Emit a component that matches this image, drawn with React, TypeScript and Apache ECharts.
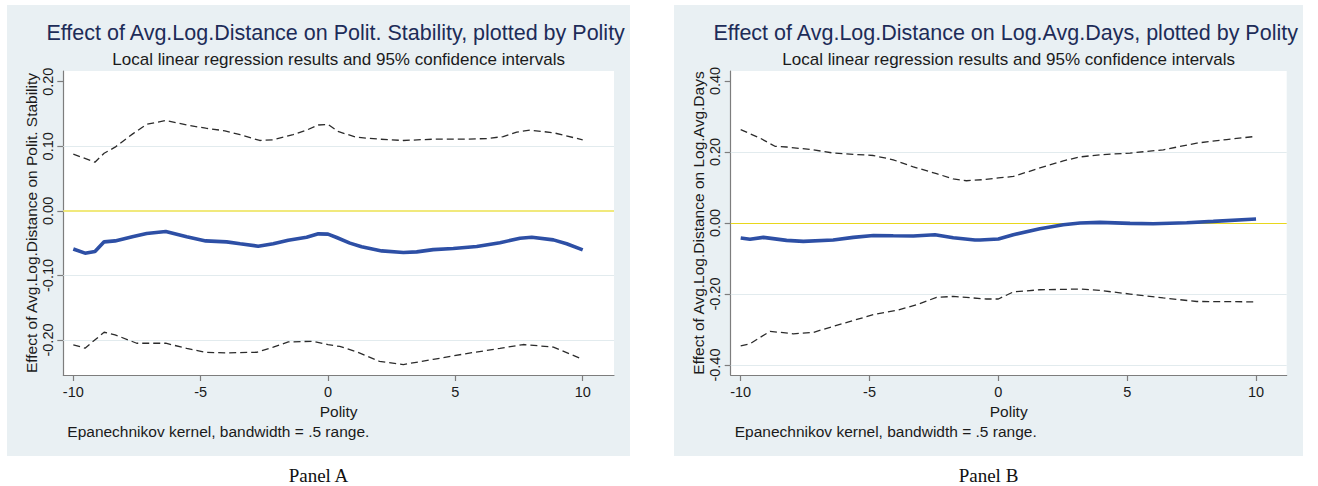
import React, { useEffect, useRef } from "react";
import * as echarts from "echarts";

const SANS = "'Liberation Sans', Arial, Helvetica, sans-serif";
const SERIF = "'Liberation Serif', 'Times New Roman', serif";

// ---- ticks ----
const xTicks = [-10, -5, 0, 5, 10];
const aYTicks = [-0.2, -0.1, 0, 0.1, 0.2];
const aGridVals = [-0.2, -0.1, 0.1];
const bYTicks = [-0.4, -0.2, 0, 0.2, 0.4];
const bGridVals = [-0.4, -0.2, 0.2];
const zeroLine = [0];

// ---- Panel A data ----
const aMainX = [-10, -9.54, -9.15, -8.79, -8.36, -7.64, -7.12, -6.37, -5.55, -4.8, -3.98, -3.45, -2.74, -2.15, -1.56, -0.84, -0.38, 0, 0.34, 0.86, 1.32, 2.11, 2.96, 3.48, 4.13, 4.92, 5.84, 6.75, 7.54, 8.0, 8.85, 9.37, 10];
const aMainY = [-0.059, -0.0655, -0.063, -0.048, -0.0465, -0.0397, -0.035, -0.032, -0.04, -0.0465, -0.048, -0.051, -0.0547, -0.051, -0.0454, -0.0408, -0.0356, -0.036, -0.0413, -0.05, -0.0557, -0.062, -0.0645, -0.0635, -0.06, -0.0583, -0.0552, -0.0495, -0.0423, -0.0408, -0.0449, -0.051, -0.0604];
const aUpX = [-10, -9.15, -8.79, -8.36, -7.64, -7.12, -6.37, -5.55, -4.8, -4.05, -3.45, -2.68, -2.15, -1.37, -0.84, -0.38, 0, 0.39, 1.11, 2.02, 2.96, 4.13, 5.44, 6.23, 6.88, 7.41, 7.93, 8.85, 10];
const aUpY = [0.0878, 0.0754, 0.0893, 0.0986, 0.12, 0.134, 0.14, 0.133, 0.128, 0.124, 0.118, 0.109, 0.11, 0.118, 0.125, 0.133, 0.134, 0.123, 0.114, 0.111, 0.109, 0.111, 0.111, 0.112, 0.115, 0.122, 0.125, 0.121, 0.11];
const aLoX = [-10, -9.54, -8.79, -8.36, -7.51, -6.37, -5.55, -4.8, -3.98, -2.8, -2.15, -1.56, -0.58, 0, 0.46, 1.11, 2.02, 2.96, 4.13, 5.44, 6.75, 7.67, 8.85, 10];
const aLoY = [-0.2074, -0.2126, -0.188, -0.192, -0.205, -0.205, -0.213, -0.219, -0.22, -0.219, -0.211, -0.203, -0.202, -0.207, -0.21, -0.218, -0.233, -0.238, -0.23, -0.221, -0.213, -0.207, -0.211, -0.23];

// ---- Panel B data ----
const bMainX = [-10, -9.64, -9.12, -8.22, -7.57, -6.41, -5.63, -4.85, -4.08, -3.3, -2.46, -1.75, -0.91, -0.71, 0, 0.58, 1.61, 2.52, 3.17, 3.94, 5.11, 6.01, 7.31, 8.34, 10];
const bMainY = [-0.0423, -0.046, -0.0405, -0.049, -0.0518, -0.048, -0.0405, -0.035, -0.036, -0.0367, -0.033, -0.0414, -0.048, -0.048, -0.045, -0.033, -0.016, -0.0048, 0.0, 0.0017, -0.001, -0.002, 0.0008, 0.0047, 0.0113];
const bUpX = [-10, -9.25, -8.67, -8.22, -7.18, -6.41, -4.85, -4.08, -3.3, -2.4, -1.75, -1.24, -0.59, 0, 0.58, 1.61, 2.52, 3.17, 3.94, 5.11, 6.4, 7.7, 8.86, 10];
const bUpY = [0.263, 0.239, 0.216, 0.214, 0.206, 0.197, 0.19, 0.178, 0.158, 0.139, 0.124, 0.119, 0.122, 0.127, 0.131, 0.155, 0.175, 0.186, 0.192, 0.197, 0.206, 0.225, 0.235, 0.244];
const bLoX = [-10, -9.64, -8.86, -7.96, -7.18, -6.41, -4.85, -3.95, -3.17, -2.4, -1.75, -0.46, 0, 0.58, 1.61, 3.17, 3.94, 5.11, 6.4, 7.7, 10];
const bLoY = [-0.3457, -0.34, -0.305, -0.312, -0.308, -0.291, -0.258, -0.246, -0.23, -0.2095, -0.2067, -0.214, -0.214, -0.194, -0.188, -0.186, -0.19, -0.2, -0.211, -0.221, -0.222];

const zip = (xs: number[], ys: number[]) => xs.map((x, i) => [x, ys[i]]);

type PanelCfg = {
  width: number;
  gridLeft: number;
  gridWidth: number;
  xMin: number;
  xMax: number;
  yMin: number;
  yMax: number;
  yTicks: number[];
  gridVals: number[];
  zeroColor: string;
  zeroWidth: number;
  title: string;
  yName: string;
  panel: string;
  main: number[][];
  up: number[][];
  lo: number[][];
};

function buildOption(p: PanelCfg): any {
  const axisColor = "#7d7d7d";
  const plotCenter = p.gridLeft + p.gridWidth / 2;
  const dash = { color: "#2b2b2b", width: 1.3, type: [7, 4] };
  return {
    animation: false,
    grid: {
      left: p.gridLeft,
      top: 71,
      width: p.gridWidth,
      height: 304,
      show: true,
      backgroundColor: "#ffffff",
      borderWidth: 0,
    },
    xAxis: {
      type: "value",
      min: p.xMin,
      max: p.xMax,
      name: "Polity",
      nameLocation: "middle",
      nameGap: 26,
      nameTextStyle: { fontFamily: SANS, fontSize: 15.5, color: "#1a1a1a" },
      axisLine: { show: true, onZero: false, lineStyle: { color: axisColor, width: 1.2 } },
      axisTick: { show: true, length: 6, customValues: xTicks, lineStyle: { color: axisColor, width: 1.2 } },
      axisLabel: {
        customValues: xTicks,
        margin: 9,
        color: "#1a1a1a",
        fontSize: 14.5,
        fontFamily: SANS,
        formatter: (v: number) => String(v),
      },
      splitLine: { show: false },
    },
    yAxis: {
      type: "value",
      min: p.yMin,
      max: p.yMax,
      name: p.yName,
      nameLocation: "middle",
      nameGap: 24,
      nameMoveOverlap: false,
      nameTextStyle: { fontFamily: SANS, fontSize: 15.5, color: "#1a1a1a" },
      axisLine: { show: true, onZero: false, lineStyle: { color: axisColor, width: 1.2 } },
      axisTick: { show: true, length: 6, customValues: p.yTicks, lineStyle: { color: axisColor, width: 1.2 } },
      axisLabel: {
        customValues: p.yTicks,
        rotate: 90,
        margin: 8,
        color: "#1a1a1a",
        fontSize: 14.5,
        fontFamily: SANS,
        formatter: (v: number) => (Math.abs(v) < 1e-9 ? "0.00" : v.toFixed(2)),
      },
      splitLine: { show: false },
    },
    series: [
      {
        type: "line",
        data: p.lo,
        symbol: "none",
        z: 2,
        lineStyle: dash,
        markLine: {
          z: 1,
          silent: true,
          symbol: "none",
          label: { show: false },
          lineStyle: { color: "#e2ebee", width: 1, type: "solid" },
          data: [
            ...p.gridVals.map((v) => ({ yAxis: v })),
            ...zeroLine.map((v) => ({ yAxis: v, lineStyle: { color: p.zeroColor, width: p.zeroWidth, type: "solid" } })),
          ],
        },
      },
      { type: "line", data: p.up, symbol: "none", z: 2, lineStyle: dash },
      { type: "line", data: p.main, symbol: "none", z: 4, lineStyle: { color: "#2d4fa5", width: 3.6 } },
    ],
    graphic: [
      {
        type: "text",
        x: plotCenter - 3,
        y: 33,
        style: { text: p.title, fill: "#1d2c58", font: `21.5px ${SANS}`, textAlign: "center", textVerticalAlign: "middle" },
      },
      {
        type: "text",
        x: plotCenter,
        y: 59,
        style: {
          text: "Local linear regression results and 95% confidence intervals",
          fill: "#1a1a1a",
          font: `17px ${SANS}`,
          textAlign: "center",
          textVerticalAlign: "middle",
        },
      },
      {
        type: "text",
        x: p.gridLeft + 4,
        y: 431,
        style: {
          text: "Epanechnikov kernel, bandwidth = .5 range.",
          fill: "#1a1a1a",
          font: `15.5px ${SANS}`,
          textAlign: "left",
          textVerticalAlign: "middle",
        },
      },
      {
        type: "text",
        x: p.width / 2,
        y: 475,
        style: { text: p.panel, fill: "#111111", font: `19px ${SERIF}`, textAlign: "center", textVerticalAlign: "middle" },
      },
    ],
  };
}

const panelA: PanelCfg = {
  width: 623,
  gridLeft: 56.3,
  gridWidth: 550.7,
  xMin: -10.393,
  xMax: 11.229,
  yMin: -0.2542,
  yMax: 0.2166,
  yTicks: aYTicks,
  gridVals: aGridVals,
  zeroColor: "#f1e97c",
  zeroWidth: 2,
  title: "Effect of Avg.Log.Distance on Polit. Stability, plotted by Polity",
  yName: "Effect of Avg.Log.Distance on Polit. Stability",
  panel: "Panel A",
  main: zip(aMainX, aMainY),
  up: zip(aUpX, aUpY),
  lo: zip(aLoX, aLoY),
};

const panelB: PanelCfg = {
  width: 629,
  gridLeft: 56.7,
  gridWidth: 556,
  xMin: -10.388,
  xMax: 11.19,
  yMin: -0.428,
  yMax: 0.428,
  yTicks: bYTicks,
  gridVals: bGridVals,
  zeroColor: "#e8d71c",
  zeroWidth: 1.2,
  title: "Effect of Avg.Log.Distance on Log.Avg.Days, plotted by Polity",
  yName: "Effect of Avg.Log.Distance on Log.Avg.Days",
  panel: "Panel B",
  main: zip(bMainX, bMainY),
  up: zip(bUpX, bUpY),
  lo: zip(bLoX, bLoY),
};

function Panel({ cfg, left }: { cfg: PanelCfg; left: number }) {
  const ref = useRef<HTMLDivElement>(null);
  useEffect(() => {
    if (!ref.current) return;
    const chart = echarts.init(ref.current, undefined, { renderer: "svg" });
    chart.setOption(buildOption(cfg));
    return () => chart.dispose();
  }, [cfg]);
  return (
    <>
      <div
        style={{ position: "absolute", left, top: 5, width: cfg.width, height: 451, background: "#e9f0f3" }}
      />
      <div ref={ref} style={{ position: "absolute", left, top: 0, width: cfg.width, height: 486 }} />
    </>
  );
}

export default function App() {
  return (
    <div
      style={{ position: "absolute", left: 0, top: 0, width: 1318, height: 486, background: "#ffffff", overflow: "hidden" }}
    >
      <Panel cfg={panelA} left={7} />
      <Panel cfg={panelB} left={674} />
    </div>
  );
}
